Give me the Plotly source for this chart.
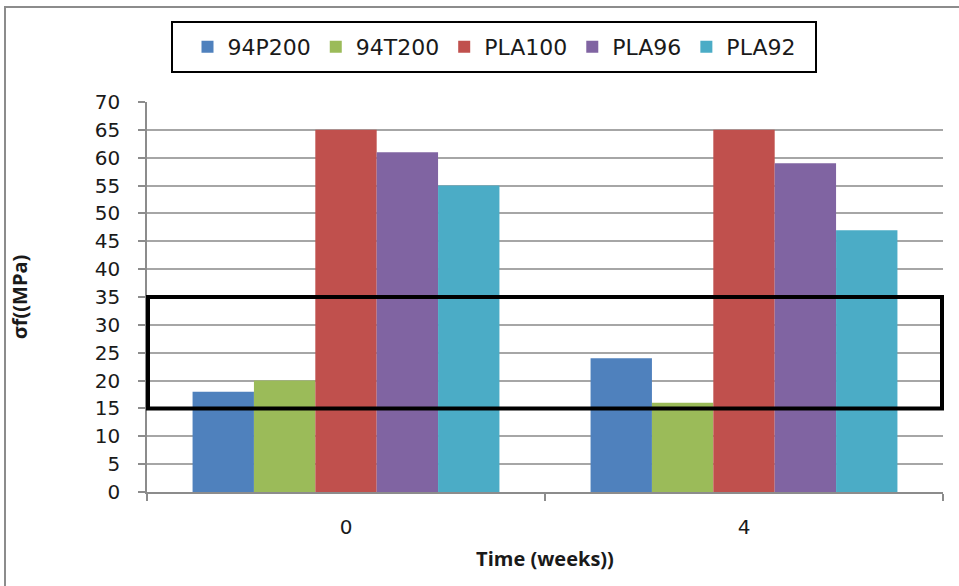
import plotly.graph_objects as go

weeks = ["0", "4"]
series_names = ["94P200", "94T200", "PLA100", "PLA96", "PLA92"]
v_94P200 = [18, 24]
v_94T200 = [20, 16]
v_PLA100 = [65, 65]
v_PLA96 = [61, 59]
v_PLA92 = [55, 47]
colors = ["#4F81BD", "#9BBB59", "#C0504D", "#8064A2", "#4BACC6"]
y_ticks = list(range(0, 71, 5))

values = [v_94P200, v_94T200, v_PLA100, v_PLA96, v_PLA92]

fig = go.Figure()
for name, vals, col in zip(series_names, values, colors):
    fig.add_trace(go.Bar(x=weeks, y=vals, name=name, marker=dict(color=col, line=dict(width=0))))

W, H = 959, 586
L, R, T, B = 147, 16, 102, 94
pw, ph = W - L - R, H - T - B

def px(xp):
    return (xp - L) / pw

def py(yp):
    return 1 + (T - yp) / ph

fig.update_layout(
    width=W, height=H,
    margin=dict(l=L, r=R, t=T, b=B),
    paper_bgcolor="white", plot_bgcolor="white",
    barmode="group", bargap=0.229, bargroupgap=0,
    font=dict(family="DejaVu Sans", color="#1a1a1a"),
    legend=dict(orientation="h", x=px(494), xanchor="center", y=py(47), yanchor="middle",
                font=dict(family="DejaVu Sans", size=22, color="#1a1a1a"),
                bgcolor="rgba(0,0,0,0)", borderwidth=0, itemwidth=30),
    showlegend=True,
)

fig.update_xaxes(
    type="category", showgrid=False, showline=True, linecolor="#8c8c8c", linewidth=1.5,
    ticks="outside", tickson="boundaries", ticklen=7, tickcolor="#8c8c8c", tickwidth=1.5,
    tickfont=dict(family="DejaVu Sans", size=20, color="#1a1a1a"),
    ticklabelstandoff=16,
    title=dict(text="<b>Time (weeks))</b>", font=dict(family="Open Sans", size=20, color="#1a1a1a"), standoff=14),
)
fig.update_yaxes(
    range=[0, 70], tickvals=y_ticks, showgrid=True, gridcolor="#a6a6a6", gridwidth=1.5,
    showline=True, linecolor="#8c8c8c", linewidth=1.5, zeroline=False,
    ticks="outside", ticklen=7, tickcolor="#8c8c8c", tickwidth=1.5,
    tickfont=dict(family="DejaVu Sans", size=20, color="#1a1a1a"),
    ticklabelstandoff=14,
    title=dict(text="<b>σf((MPa)</b>", font=dict(family="Open Sans", size=20, color="#1a1a1a"), standoff=62),
)

shapes = [
    dict(type="rect", xref="paper", yref="paper", x0=px(5), x1=px(960), y0=py(587), y1=py(7),
         line=dict(color="#8c8c8c", width=2), fillcolor="rgba(0,0,0,0)", layer="below"),
    dict(type="rect", xref="paper", yref="paper", x0=px(172), x1=px(816), y0=py(72), y1=py(22),
         line=dict(color="black", width=2), fillcolor="rgba(0,0,0,0)"),
    dict(type="rect", xref="paper", yref="y", x0=px(148), x1=px(942), y0=15, y1=35,
         line=dict(color="black", width=4), fillcolor="rgba(0,0,0,0)"),
]
fig.update_layout(shapes=shapes)

fig.write_html("out.html", config={"displayModeBar": False},
               post_script="document.body.style.margin='0';")
